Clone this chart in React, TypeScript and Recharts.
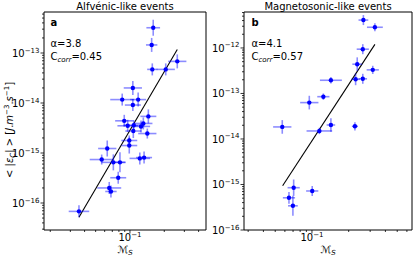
import React from 'react';
import {
  ScatterChart,
  Scatter,
  XAxis,
  YAxis,
  ErrorBar,
  ReferenceLine,
  ReferenceArea,
} from 'recharts';

const FONT = '"DejaVu Sans", Verdana, sans-serif';
const POINT = '#0000ff';
const ERR = 'rgba(0, 0, 255, 0.45)';

// ─── Panel a: Alfvénic-like events ────────────────────────────────────────────

const alfMs = [
  0.16, 0.155, 0.26, 0.157, 0.206, 0.106, 0.0855, 0.118, 0.106, 0.145, 0.0891,
  0.0955, 0.108, 0.131, 0.125, 0.107, 0.142, 0.0986, 0.0986, 0.0632, 0.0565,
  0.0715, 0.0817, 0.122, 0.133, 0.0789, 0.0658, 0.0681, 0.0357,
];
const alfEps = [
  3.2e-13, 1.45e-13, 6.8e-14, 4.7e-14, 4.7e-14, 2.0e-14, 1.17e-14, 1.17e-14,
  9.1e-15, 5.4e-15, 4.4e-15, 3.5e-15, 3.6e-15, 3.9e-15, 3.4e-15, 2.75e-15,
  2.45e-15, 1.78e-15, 1.41e-15, 1.23e-15, 7.4e-16, 6.5e-16, 6.5e-16, 7.8e-16,
  8.1e-16, 3.2e-16, 2.0e-16, 1.7e-16, 6.8e-17,
];
// error half-widths, in decades
const alfMsErr = [
  0.06, 0.05, 0.08, 0.045, 0.08, 0.08, 0.105, 0.07, 0.07, 0.07, 0.08, 0.09,
  0.09, 0.08, 0.08, 0.07, 0.08, 0.07, 0.07, 0.08, 0.105, 0.105, 0.05, 0.09,
  0.07, 0.07, 0.105, 0.05, 0.09,
];
const alfEpsErr = [
  0.16, 0.14, 0.14, 0.12, 0.12, 0.14, 0.12, 0.14, 0.12, 0.14, 0.12, 0.12, 0.1,
  0.12, 0.12, 0.14, 0.1, 0.1, 0.16, 0.16, 0.1, 0.16, 0.2, 0.12, 0.12, 0.12,
  0.12, 0.12, 0.12,
];
const alfFitMs = [0.0357, 0.26];
const alfFitEps = [5.2e-17, 1.18e-13];

// ─── Panel b: Magnetosonic-like events ────────────────────────────────────────

const magMs = [
  0.264, 0.328, 0.261, 0.235, 0.315, 0.228, 0.261, 0.143, 0.124, 0.0951,
  0.0571, 0.143, 0.115, 0.225, 0.0708, 0.1005, 0.0648, 0.0698,
];
const magEps = [
  4.1e-12, 2.85e-12, 9.4e-13, 4.4e-13, 3.3e-13, 2.05e-13, 2.1e-13, 1.95e-13,
  8.5e-14, 6.3e-14, 1.84e-14, 2.03e-14, 1.5e-14, 1.9e-14, 8.5e-16, 7.2e-16,
  5.1e-16, 3.4e-16,
];
const magMsErr = [
  0.04, 0.065, 0.05, 0.04, 0.05, 0.035, 0.035, 0.09, 0.05, 0.075, 0.075, 0.035,
  0.105, 0.025, 0.05, 0.05, 0.05, 0.04,
];
const magEpsErr = [
  0.11, 0.09, 0.11, 0.15, 0.09, 0.13, 0.11, 0.07, 0.07, 0.15, 0.15, 0.15, 0.07,
  0.09, 0.18, 0.11, 0.13, 0.22,
];
const magFitMs = [0.0575, 0.328];
const magFitEps = [9.4e-16, 1.2e-12];

// axis limits (log10) and labelled decades
const alfXDomain = [-1.754, -0.333];
const alfYDomain = [-16.54, -12.18];
const magXDomain = [-1.557, -0.18];
const magYDomain = [-16, -11.21];
const xMajor = [-2, -1, 0];
const yMajor = [-17, -16, -15, -14, -13, -12, -11];
const MINOR = [2, 3, 4, 5, 6, 7, 8, 9];

// ─── Helpers ──────────────────────────────────────────────────────────────────

function logTicks(majors: number[], domain: number[]) {
  const out: number[] = [];
  for (const m of majors) {
    out.push(m);
    for (const k of MINOR) out.push(m + Math.log10(k));
  }
  return out.filter((v) => v >= domain[0] - 1e-9 && v <= domain[1] + 1e-9);
}

const isMajor = (v: number) => Math.abs(v - Math.round(v)) < 1e-6;

function YTick({ x, y, payload }: any) {
  const v = payload.value;
  const major = isMajor(v);
  return (
    <g>
      <line x1={x} x2={x - (major ? 3.5 : 2)} y1={y} y2={y} stroke="#000" strokeWidth={0.8} />
      {major && (
        <text x={x - 4.5} y={y + 4} textAnchor="end" fontSize={10} fontFamily={FONT} fill="#000">
          10
          <tspan dy={-4.5} fontSize={7}>{`−${-Math.round(v)}`}</tspan>
        </text>
      )}
    </g>
  );
}

function XTick({ x, y, payload }: any) {
  const v = payload.value;
  const major = isMajor(v);
  return (
    <g>
      <line x1={x} x2={x} y1={y} y2={y + (major ? 3.5 : 2)} stroke="#000" strokeWidth={0.8} />
      {major && (
        <text x={x} y={y + 11.2} textAnchor="middle" fontSize={10} fontFamily={FONT} fill="#000">
          10
          <tspan dy={-4.5} fontSize={7}>{`−${-Math.round(v)}`}</tspan>
        </text>
      )}
    </g>
  );
}

const dot = (p: any) => <circle cx={p.cx} cy={p.cy} r={2.2} fill={POINT} />;

interface PanelProps {
  left: number;
  width: number;
  axisWidth: number;
  marginRight: number;
  ms: number[];
  eps: number[];
  msErr: number[];
  epsErr: number[];
  fitMs: number[];
  fitEps: number[];
  xDomain: number[];
  yDomain: number[];
}

function Panel(p: PanelProps) {
  const data = p.ms.map((m, i) => ({
    x: Math.log10(m),
    y: Math.log10(p.eps[i]),
    ex: p.msErr[i],
    ey: p.epsErr[i],
  }));
  return (
    <div style={{ position: 'absolute', left: p.left, top: 0 }}>
      <ScatterChart
        width={p.width}
        height={256}
        margin={{ top: 12, right: p.marginRight, bottom: 0, left: 0 }}
      >
        <XAxis
          type="number"
          dataKey="x"
          domain={p.xDomain}
          allowDataOverflow
          ticks={logTicks(xMajor, p.xDomain)}
          interval={0}
          tick={<XTick />}
          tickLine={false}
          tickSize={0}
          tickMargin={0}
          axisLine={false}
          height={26}
        />
        <YAxis
          type="number"
          dataKey="y"
          domain={p.yDomain}
          allowDataOverflow
          ticks={logTicks(yMajor, p.yDomain)}
          interval={0}
          tick={<YTick />}
          tickLine={false}
          tickSize={0}
          tickMargin={0}
          axisLine={false}
          width={p.axisWidth}
        />
        <ReferenceArea
          x1={p.xDomain[0]}
          x2={p.xDomain[1]}
          y1={p.yDomain[0]}
          y2={p.yDomain[1]}
          fill="none"
          stroke="#000"
          strokeWidth={1}
          ifOverflow="visible"
        />
        <ReferenceLine
          segment={[
            { x: Math.log10(p.fitMs[0]), y: Math.log10(p.fitEps[0]) },
            { x: Math.log10(p.fitMs[1]), y: Math.log10(p.fitEps[1]) },
          ]}
          stroke="#000"
          strokeWidth={1.1}
          ifOverflow="visible"
        />
        <Scatter data={data} shape={dot} isAnimationActive={false}>
          <ErrorBar dataKey="ex" direction="x" width={0} stroke={ERR} strokeWidth={1.6} />
          <ErrorBar dataKey="ey" direction="y" width={0} stroke={ERR} strokeWidth={1.6} />
        </Scatter>
      </ScatterChart>
    </div>
  );
}

// ─── Text overlay ─────────────────────────────────────────────────────────────

function Annotations() {
  const txt = { fontFamily: FONT, fontSize: 10, fill: '#000' };
  return (
    <svg
      width={415}
      height={256}
      style={{ position: 'absolute', left: 0, top: 0, pointerEvents: 'none' }}
    >
      <text {...txt} x={125} y={9.5} textAnchor="middle">Alfvénic-like events</text>
      <text {...txt} x={328} y={9.5} textAnchor="middle">Magnetosonic-like events</text>

      <text {...txt} x={50.5} y={26} fontWeight="bold">a</text>
      <text {...txt} x={50.5} y={46.7}>α=3.8</text>
      <text {...txt} x={50.5} y={59.5}>
        C<tspan fontSize={7} fontStyle="italic" dy={2}>corr</tspan>
        <tspan dy={-2}>=0.45</tspan>
      </text>

      <text {...txt} x={251.5} y={25.5} fontWeight="bold">b</text>
      <text {...txt} x={251.5} y={47}>α=4.1</text>
      <text {...txt} x={251.5} y={59.5}>
        C<tspan fontSize={7} fontStyle="italic" dy={2}>corr</tspan>
        <tspan dy={-2}>=0.57</tspan>
      </text>

      {[125, 328].map((cx) => (
        <text key={cx} {...txt} x={cx} y={253} textAnchor="middle">
          <tspan fontStyle="italic">ℳ</tspan>
          <tspan fontSize={7} fontStyle="italic" dy={1.5}>S</tspan>
        </text>
      ))}

      <text {...txt} x={12.5} y={130} textAnchor="middle" transform="rotate(-90, 12.5, 130)">
        {'< |'}
        <tspan fontStyle="italic">ε</tspan>
        <tspan fontSize={7} fontStyle="italic" dy={2}>C</tspan>
        <tspan dy={-2}>{'| > ['}</tspan>
        <tspan fontStyle="italic">J</tspan>
        .<tspan fontStyle="italic">m</tspan>
        <tspan fontSize={7} dy={-4}>−3</tspan>
        <tspan dy={4}>.</tspan>
        <tspan fontStyle="italic">s</tspan>
        <tspan fontSize={7} dy={-4}>−1</tspan>
        <tspan dy={4}>]</tspan>
      </text>
    </svg>
  );
}

// ─── App ──────────────────────────────────────────────────────────────────────

export default function App() {
  return (
    <div
      style={{
        position: 'absolute',
        left: 0,
        top: 0,
        width: 415,
        height: 256,
        background: '#fff',
        overflow: 'hidden',
      }}
    >
      <Panel
        left={0}
        width={208}
        axisWidth={44}
        marginRight={2}
        ms={alfMs}
        eps={alfEps}
        msErr={alfMsErr}
        epsErr={alfEpsErr}
        fitMs={alfFitMs}
        fitEps={alfFitEps}
        xDomain={alfXDomain}
        yDomain={alfYDomain}
      />
      <Panel
        left={206}
        width={209}
        axisWidth={38}
        marginRight={3}
        ms={magMs}
        eps={magEps}
        msErr={magMsErr}
        epsErr={magEpsErr}
        fitMs={magFitMs}
        fitEps={magFitEps}
        xDomain={magXDomain}
        yDomain={magYDomain}
      />
      <Annotations />
    </div>
  );
}
